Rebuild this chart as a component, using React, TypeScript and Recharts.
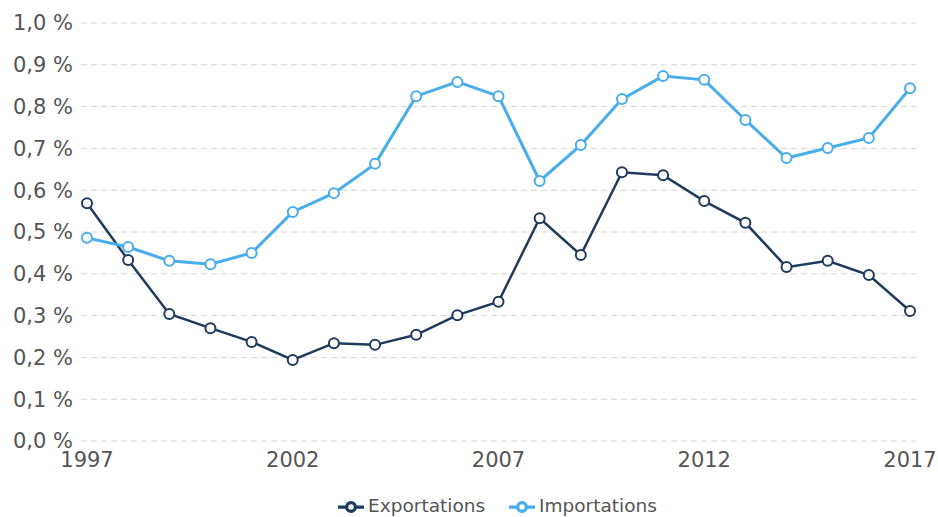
import { LineChart, Line, XAxis, YAxis, CartesianGrid, Legend } from 'recharts';

const years = [1997, 1998, 1999, 2000, 2001, 2002, 2003, 2004, 2005, 2006, 2007, 2008, 2009, 2010, 2011, 2012, 2013, 2014, 2015, 2016, 2017];
const exportations = [0.569, 0.433, 0.304, 0.27, 0.237, 0.194, 0.234, 0.23, 0.254, 0.301, 0.333, 0.533, 0.445, 0.643, 0.636, 0.574, 0.522, 0.416, 0.431, 0.397, 0.311];
const importations = [0.486, 0.464, 0.431, 0.423, 0.45, 0.548, 0.593, 0.663, 0.825, 0.859, 0.825, 0.622, 0.708, 0.818, 0.873, 0.864, 0.768, 0.677, 0.701, 0.725, 0.844];
const xTicks = [1997, 2002, 2007, 2012, 2017];
const yTicks = [0, 0.1, 0.2, 0.3, 0.4, 0.5, 0.6, 0.7, 0.8, 0.9, 1.0];

const data = years.map((year, i) => ({ year, exp: exportations[i], imp: importations[i] }));

const font = 'Verdana, "DejaVu Sans", sans-serif';
const textColor = '#555';

export default function App() {
  return (
    <div style={{ position: 'absolute', left: 0, top: 0, fontFamily: font }}>
      <LineChart width={938} height={517} data={data} margin={{ top: 23, right: 22, bottom: 0, left: 0 }}>
        <CartesianGrid vertical={false} stroke="#d6d6d6" strokeDasharray="6 4" />
        <XAxis
          dataKey="year"
          type="number"
          domain={[1997, 2017]}
          ticks={xTicks}
          interval={0}
          padding={{ left: 6, right: 6 }}
          axisLine={false}
          tickLine={false}
          tickMargin={5}
          height={48}
          tick={{ fill: textColor, fontSize: 21, fontFamily: font }}
        />
        <YAxis
          domain={[0, 1]}
          ticks={yTicks}
          width={81}
          axisLine={false}
          tickLine={false}
          tickFormatter={(v: number) => v.toFixed(1).replace('.', ',') + ' %'}
          tick={{ fill: textColor, fontSize: 21, fontFamily: font }}
        />
        <Legend
          verticalAlign="bottom"
          iconSize={26}
          wrapperStyle={{ height: 28, bottom: -5, left: 92, width: 835, fontSize: 18.5, fontFamily: font }}
          formatter={(value: string) => <span style={{ color: textColor, marginRight: 14 }}>{value}</span>}
        />
        <Line
          dataKey="exp"
          name="Exportations"
          stroke="#1e3a5c"
          strokeWidth={2.5}
          dot={{ r: 5, fill: '#fff', strokeWidth: 2 }}
          isAnimationActive={false}
        />
        <Line
          dataKey="imp"
          name="Importations"
          stroke="#48ade9"
          strokeWidth={3}
          dot={{ r: 5, fill: '#fff', strokeWidth: 2 }}
          isAnimationActive={false}
        />
      </LineChart>
    </div>
  );
}
